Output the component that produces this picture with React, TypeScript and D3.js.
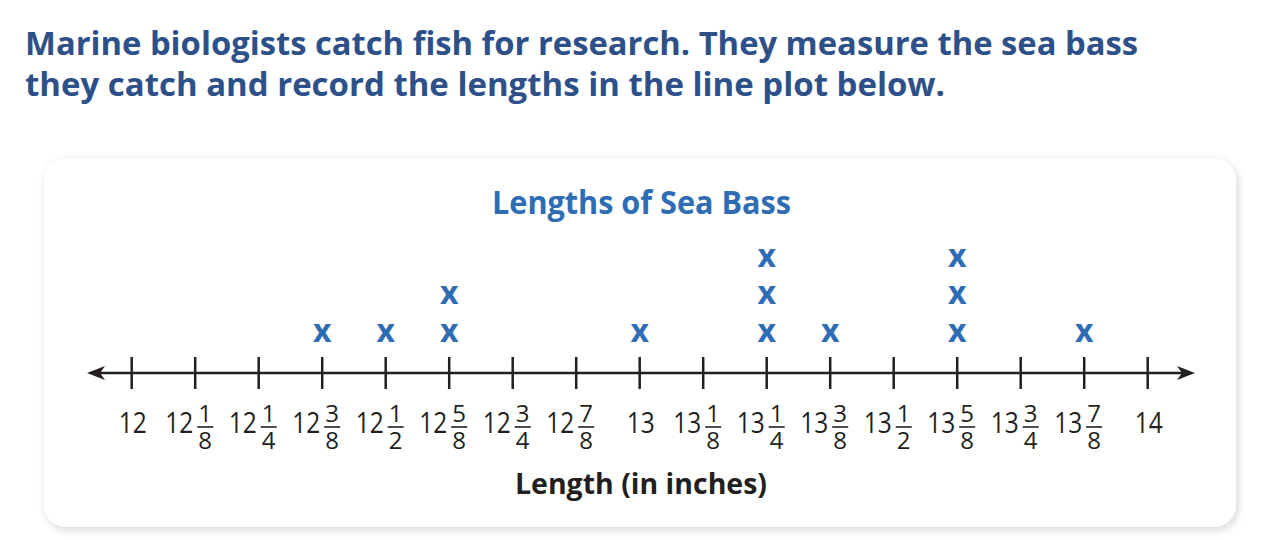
import React from "react";
import * as d3 from "d3";

const titleLines = [
  "Marine biologists catch fish for research. They measure the sea bass",
  "they catch and record the lengths in the line plot below.",
];
const chartTitle = "Lengths of Sea Bass";
const axisLabel = "Length (in inches)";

// tick values in eighths of an inch
const tickValues = [12, 12.125, 12.25, 12.375, 12.5, 12.625, 12.75, 12.875, 13, 13.125, 13.25, 13.375, 13.5, 13.625, 13.75, 13.875, 14];
const tickWhole = ["12", "12", "12", "12", "12", "12", "12", "12", "13", "13", "13", "13", "13", "13", "13", "13", "14"];
const tickNum = ["", "1", "1", "3", "1", "5", "3", "7", "", "1", "1", "3", "1", "5", "3", "7", ""];
const tickDen = ["", "8", "4", "8", "2", "8", "4", "8", "", "8", "4", "8", "2", "8", "4", "8", ""];

// measured lengths (one entry per fish)
const lengths = [12.375, 12.5, 12.625, 12.625, 13, 13.25, 13.25, 13.25, 13.375, 13.625, 13.625, 13.625, 13.875];

const W = 1262;
const H = 540;
const AXIS_Y = 373;
const BLUE = "#2e6db4";
const NAVY = "#2d5089";
const INK = "#231f20";
const FONT = "'Open Sans', sans-serif";

export default function App() {
  const x = d3.scaleLinear().domain([12, 14]).range([131.7, 1147.7]);
  const yStack = d3.scaleLinear().domain([0, 1]).range([333, 295.5]);

  const counts = new Map<number, number>();
  const marks = lengths.map((v) => {
    const k = counts.get(v) || 0;
    counts.set(v, k + 1);
    return { v, k };
  });

  const leftTip = 87;
  const rightTip = 1195;

  return (
    <svg
      width={W}
      height={H}
      viewBox={`0 0 ${W} ${H}`}
      style={{ position: "absolute", left: 0, top: 0, background: "#fff" }}
    >
      <defs>
        <filter id="shadow" x="-5%" y="-10%" width="110%" height="125%">
          <feDropShadow dx="2" dy="3" stdDeviation="4" floodColor="#000" floodOpacity="0.16" />
        </filter>
      </defs>

      {titleLines.map((t, i) => (
        <text
          key={i}
          x={25}
          y={55 + i * 41}
          fontFamily={FONT}
          fontWeight={700}
          fontSize={33}
          fill={NAVY}
          textLength={i === 0 ? 1113 : 920}
          lengthAdjust="spacingAndGlyphs"
        >
          {t}
        </text>
      ))}

      <rect x={44} y={158} width={1192} height={369} rx={22} ry={22} fill="#fff" filter="url(#shadow)" />

      <text
        x={492}
        y={214}
        fontFamily={FONT}
        fontWeight={700}
        fontSize={32}
        fill={BLUE}
        textLength={299}
        lengthAdjust="spacingAndGlyphs"
      >
        {chartTitle}
      </text>

      {/* number line */}
      <line x1={leftTip + 8} x2={rightTip - 8} y1={AXIS_Y} y2={AXIS_Y} stroke={INK} strokeWidth={2.5} />
      <path
        d={`M${leftTip},${AXIS_Y} L${leftTip + 18},${AXIS_Y - 7} L${leftTip + 13},${AXIS_Y} L${leftTip + 18},${AXIS_Y + 7} Z`}
        fill={INK}
      />
      <path
        d={`M${rightTip},${AXIS_Y} L${rightTip - 18},${AXIS_Y - 7} L${rightTip - 13},${AXIS_Y} L${rightTip - 18},${AXIS_Y + 7} Z`}
        fill={INK}
      />
      {tickValues.map((v, i) => (
        <line key={i} x1={x(v)} x2={x(v)} y1={357} y2={389} stroke={INK} strokeWidth={2.5} />
      ))}

      {/* tick labels */}
      {tickValues.map((v, i) => {
        const cx = x(v);
        if (!tickNum[i]) {
          return (
            <text
              key={i}
              x={cx + 1}
              y={433}
              textAnchor="middle"
              fontFamily={FONT}
              fontSize={30}
              fill={INK}
              textLength={28}
              lengthAdjust="spacingAndGlyphs"
            >
              {tickWhole[i]}
            </text>
          );
        }
        const fx = cx + 10;
        return (
          <g key={i}>
            <text
              x={cx - 30}
              y={433}
              fontFamily={FONT}
              fontSize={30}
              fill={INK}
              textLength={28}
              lengthAdjust="spacingAndGlyphs"
            >
              {tickWhole[i]}
            </text>
            <text textAnchor="middle" fontFamily={FONT} fontSize={24} fill={INK}>
              <tspan x={fx} y={422}>
                {tickNum[i]}
              </tspan>
              <tspan x={fx} y={449}>
                {tickDen[i]}
              </tspan>
            </text>
            <line x1={fx - 8} x2={fx + 8} y1={427} y2={427} stroke={INK} strokeWidth={1.6} />
          </g>
        );
      })}

      <text
        x={515}
        y={494}
        fontFamily={FONT}
        fontWeight={700}
        fontSize={28}
        fill={INK}
        textLength={252}
        lengthAdjust="spacingAndGlyphs"
      >
        {axisLabel}
      </text>

      {/* data marks */}
      {marks.map((m, i) => (
        <text
          key={i}
          x={x(m.v)}
          y={yStack(m.k) + 8.5}
          textAnchor="middle"
          fontFamily={FONT}
          fontWeight={700}
          fontSize={32}
          fill={BLUE}
        >
          x
        </text>
      ))}
    </svg>
  );
}
